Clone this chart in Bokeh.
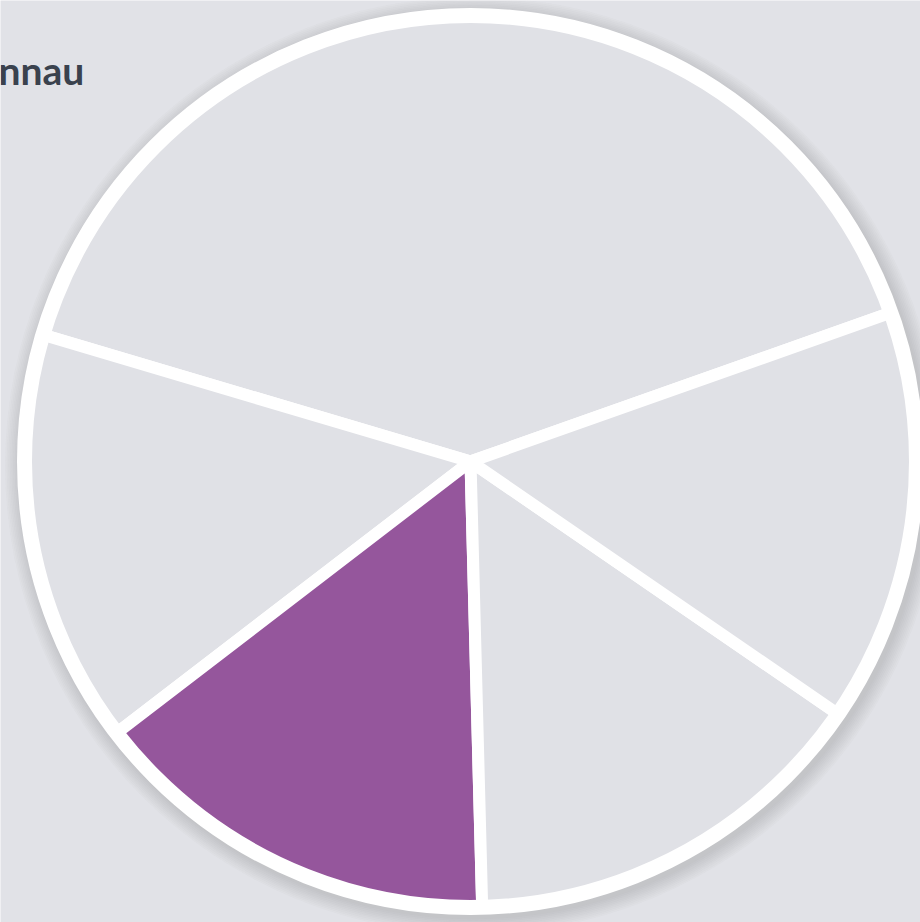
import math
from bokeh.plotting import figure
from bokeh.models import Range1d
from bokeh.core.properties import value
from bokeh.embed import file_html
from bokeh.resources import INLINE

# data
labels = ["A", "B", "C", "D", "E"]
values = [40, 15, 15, 15, 15]
colors = ["#e0e1e6", "#e0e1e6", "#95569c", "#e0e1e6", "#e0e1e6"]
title_text = "nnau"

W, H = 920, 922
cx, cy = 470, H - 461
R = 446
start_deg = 19.5

p = figure(width=W, height=H, output_backend="svg", toolbar_location=None,
           x_range=Range1d(0, W), y_range=Range1d(0, H), min_border=0,
           background_fill_color="#e1e2e7", border_fill_color="#e1e2e7")
p.axis.visible = False
p.grid.visible = False
p.outline_line_color = None

# soft shadow
for i in range(10):
    p.circle(x=[cx + 3], y=[cy - 4], radius=R + 8 + i * 1.6, fill_color="#80838c",
             fill_alpha=0.035, line_color=None)

total = sum(values)
starts, ends = [], []
a = math.radians(start_deg)
for v in values:
    starts.append(a)
    a += 2 * math.pi * v / total
    ends.append(a)

p.wedge(x=[cx] * len(values), y=[cy] * len(values), radius=R,
        start_angle=starts, end_angle=ends, fill_color=colors,
        line_color="white", line_width=12, line_join="round")

p.circle(x=[cx], y=[cy], radius=R, fill_color=None, line_color="white", line_width=15)

p.text(x=[-2], y=[H - 69], text=[title_text], text_font=value("Lato"),
       text_font_style="bold", text_font_size="39px", text_color="#3a424e",
       text_baseline="alphabetic", text_align="left")

open("out.html", "w").write(file_html(p, INLINE))
